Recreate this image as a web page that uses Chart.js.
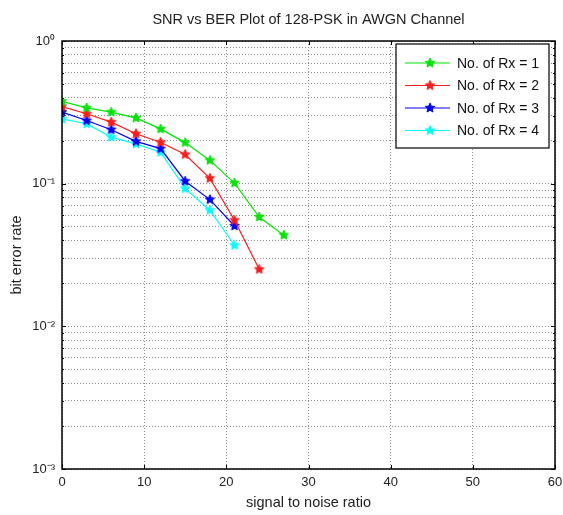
<!DOCTYPE html>
<html>
<head>
<meta charset="utf-8">
<script src="https://cdn.jsdelivr.net/npm/chart.js@4"></script>
<style>
  html, body { margin: 0; padding: 0; background: #fff; }
  #wrap { width: 563px; height: 515px; }
</style>
</head>
<body>
<div id="wrap"><canvas id="berChart" width="563" height="515"></canvas></div>
<script>
// SNR values (x axis) and BER for each number of receivers
const snr = [0, 3, 6, 9, 12, 15, 18, 21, 24, 27];
const berRx1 = [0.378, 0.34, 0.317, 0.289, 0.242, 0.194, 0.1456, 0.101, 0.0584, 0.0435];
const berRx2 = [0.347, 0.309, 0.27, 0.224, 0.195, 0.16, 0.109, 0.0554, 0.0251];
const berRx3 = [0.317, 0.277, 0.239, 0.198, 0.176, 0.104, 0.0773, 0.0505];
const berRx4 = [0.285, 0.263, 0.212, 0.19, 0.166, 0.0923, 0.0651, 0.037];

const seriesNames = ['No. of Rx = 1', 'No. of Rx = 2', 'No. of Rx = 3', 'No. of Rx = 4'];
const seriesColors = ['#00e600', '#ff1a1a', '#0000ff', '#00ffff'];

const xTicks = [0, 10, 20, 30, 40, 50, 60];
const yMajorTicks = [0.001, 0.01, 0.1, 1];
const yTickLabels = ['10\u207B\u00B3', '10\u207B\u00B2', '10\u207B\u00B9', '10\u2070'];

const FONT = '"Liberation Sans", Arial, Helvetica, sans-serif';

// small filled five point star used as marker
function makeStar(color) {
    const c = document.createElement('canvas');
    c.width = 12; c.height = 12;
    const g = c.getContext('2d');
    g.fillStyle = color;
    g.strokeStyle = color;
    g.lineWidth = 1;
    g.beginPath();
    for (let i = 0; i < 10; i++) {
        const r = i % 2 === 0 ? 5 : 2.3;
        const a = -Math.PI / 2 + i * Math.PI / 5;
        const px = 6 + r * Math.cos(a), py = 6 + r * Math.sin(a);
        if (i === 0) g.moveTo(px, py); else g.lineTo(px, py);
    }
    g.closePath();
    g.fill();
    g.stroke();
    return c;
}

const markers = seriesColors.map(makeStar);

function toPoints(vals) {
    return vals.map((v, i) => ({ x: snr[i], y: v }));
}

const allSeries = [berRx1, berRx2, berRx3, berRx4];
const datasets = allSeries.map((vals, i) => ({
    label: seriesNames[i],
    data: toPoints(vals),
    borderColor: seriesColors[i],
    backgroundColor: seriesColors[i],
    borderWidth: 1.2,
    pointStyle: markers[i],
    tension: 0
}));

// y grid at every 1..9 x 10^n
const yGridTicks = [];
yMajorTicks.forEach((m, k) => {
    if (k === yMajorTicks.length - 1) { yGridTicks.push(m); return; }
    for (let j = 1; j <= 9; j++) yGridTicks.push(+(m * j).toPrecision(3));
});

// frame, inward tick marks and legend box drawn like matlab
const matlabFrame = {
    id: 'matlabFrame',
    afterDraw(chart) {
        const { ctx, chartArea: a, scales } = chart;
        ctx.save();
        ctx.strokeStyle = '#000';
        ctx.lineWidth = 1;
        // tick marks
        ctx.beginPath();
        xTicks.forEach(t => {
            const px = Math.round(scales.x.getPixelForValue(t)) + 0.5;
            ctx.moveTo(px, a.bottom); ctx.lineTo(px, a.bottom - 4);
            ctx.moveTo(px, a.top); ctx.lineTo(px, a.top + 4);
        });
        yGridTicks.forEach(t => {
            const py = Math.round(scales.y.getPixelForValue(t)) + 0.5;
            const len = yMajorTicks.includes(t) ? 4 : 2;
            ctx.moveTo(a.left, py); ctx.lineTo(a.left + len, py);
            ctx.moveTo(a.right, py); ctx.lineTo(a.right - len, py);
        });
        ctx.stroke();
        ctx.lineWidth = 1.5;
        ctx.strokeRect(a.left, a.top, a.right - a.left, a.bottom - a.top);

        // legend
        const bx = a.right - 159, by = a.top + 3, bw = 153, bh = 104;
        ctx.fillStyle = '#fff';
        ctx.fillRect(bx, by, bw, bh);
        ctx.lineWidth = 1.2;
        ctx.strokeRect(bx, by, bw, bh);
        ctx.font = '14px ' + FONT;
        ctx.textBaseline = 'middle';
        chart.data.datasets.forEach((ds, i) => {
            const ry = by + 19 + i * 22.5;
            ctx.strokeStyle = ds.borderColor;
            ctx.lineWidth = 1.2;
            ctx.beginPath();
            ctx.moveTo(bx + 9, ry); ctx.lineTo(bx + 54, ry);
            ctx.stroke();
            ctx.drawImage(ds.pointStyle, bx + 34 - 6, ry - 6);
            ctx.fillStyle = '#111';
            ctx.fillText(ds.label, bx + 61, ry + 1);
        });
        ctx.restore();
    }
};

new Chart(document.getElementById('berChart'), {
    type: 'line',
    data: { datasets: datasets },
    options: {
        responsive: false,
        animation: false,
        layout: { padding: { left: 0, right: 8, top: 0, bottom: 0 } },
        plugins: {
            legend: { display: false },
            tooltip: { enabled: false },
            title: {
                display: true,
                fullSize: false,
                text: 'SNR vs BER Plot of 128-PSK in AWGN Channel',
                color: '#222',
                font: { family: FONT, size: 14.5, weight: 'normal' },
                padding: { top: 11, bottom: 12.6 }
            }
        },
        scales: {
            x: {
                type: 'linear',
                min: 0,
                max: 60,
                afterBuildTicks: s => { s.ticks = xTicks.map(v => ({ value: v })); },
                afterFit: s => { s.height = 46; s.paddingLeft = 0; s.paddingRight = 0; },
                grid: { color: '#8a8a8a', lineWidth: 1, drawTicks: false },
                border: { display: false, dash: [1, 2] },
                ticks: { color: '#222', font: { family: FONT, size: 13 }, padding: 6 },
                title: {
                    display: true,
                    text: 'signal to noise ratio',
                    color: '#222',
                    font: { family: FONT, size: 14.5 },
                    padding: { top: 0, bottom: 3 }
                }
            },
            y: {
                type: 'logarithmic',
                min: 0.001,
                max: 1,
                afterBuildTicks: s => { s.ticks = yGridTicks.map(v => ({ value: v })); },
                afterFit: s => { s.width = 62; },
                grid: { color: '#8a8a8a', lineWidth: 1, drawTicks: false },
                border: { display: false, dash: [1, 2] },
                ticks: {
                    color: '#222',
                    font: { family: FONT, size: 13 },
                    padding: 7,
                    autoSkip: false,
                    callback: v => {
                        const k = yMajorTicks.indexOf(v);
                        return k >= 0 ? yTickLabels[k] : '';
                    }
                },
                title: {
                    display: true,
                    text: 'bit error rate',
                    color: '#222',
                    font: { family: FONT, size: 14.5 },
                    padding: { top: 8, bottom: 0 }
                }
            }
        }
    },
    plugins: [matlabFrame]
});
</script>
</body>
</html>
